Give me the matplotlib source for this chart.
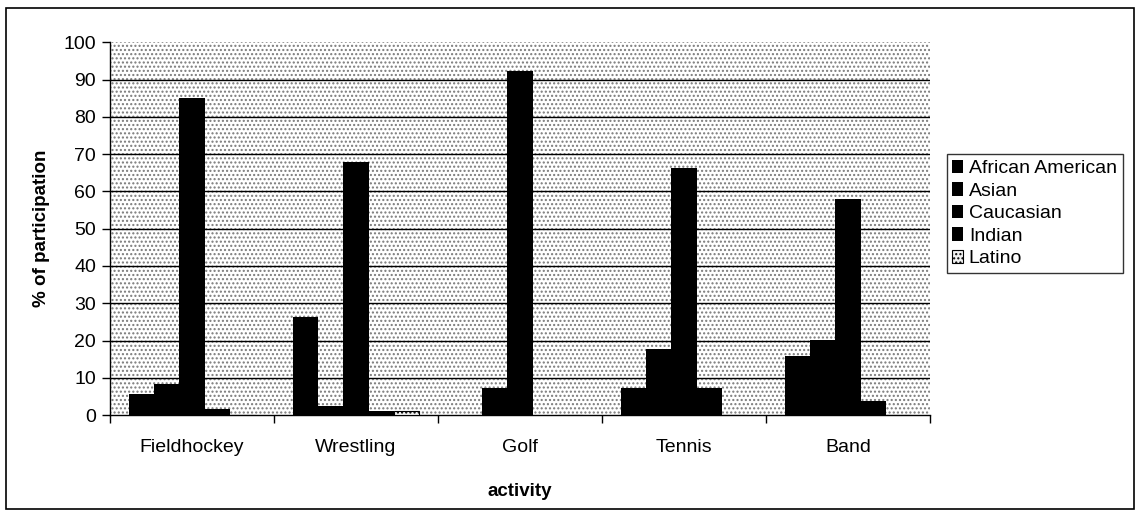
import numpy as np
import matplotlib.pyplot as plt
from matplotlib.patches import Rectangle

plt.rcParams['font.family'] = ['Liberation Sans', 'DejaVu Sans']
plt.rcParams['hatch.linewidth'] = 1.0

activities = ['Fieldhockey', 'Wrestling', 'Golf', 'Tennis', 'Band']
groups = ['African American', 'Asian', 'Caucasian', 'Indian', 'Latino']
african_american = [5.6, 26.3, 0.0, 7.2, 15.8]
asian = [8.3, 2.4, 7.3, 17.7, 20.1]
caucasian = [85.0, 68.0, 92.2, 66.2, 58.0]
indian = [1.6, 1.1, 0.0, 7.2, 3.7]
latino = [0.0, 1.0, 0.0, 0.0, 0.0]
series = [african_american, asian, caucasian, indian, latino]

fig = plt.figure(figsize=(11.39, 5.15), dpi=100)
ax = fig.add_axes([0.0966, 0.194, 0.72, 0.724])

# dotted plot area
ax.add_patch(Rectangle((0, 0), 1, 1, transform=ax.transAxes, facecolor='white',
                       hatch='....', edgecolor='#7a7a7a', lw=0, zorder=0))

x = np.arange(len(activities))
w = 1 / 6.5
for i, vals in enumerate(series):
    pos = x - 2 * w + i * w
    if groups[i] == 'Latino':
        ax.bar(pos, vals, w, color='#f2f2f2', edgecolor='black', lw=0.8,
               hatch='....', label=groups[i], zorder=3)
    else:
        ax.bar(pos, vals, w, color='black', edgecolor='black', lw=0,
               label=groups[i], zorder=3)

ax.set_xlim(-0.5, len(activities) - 0.5)
ax.set_ylim(0, 100)
ax.set_yticks(range(0, 101, 10))
for v in range(10, 100, 10):
    ax.axhline(v, color='black', lw=1.0, zorder=1)
ax.set_xticks(x)
ax.set_xticklabels(activities, fontsize=14)
ax.set_xticks(np.arange(-0.5, len(activities)), minor=True)
ax.tick_params(axis='x', which='major', length=0, pad=17)
ax.tick_params(axis='x', which='minor', length=6, width=1)
ax.tick_params(axis='y', labelsize=14, length=6, width=1, pad=4)
for s in ['top', 'right']:
    ax.spines[s].set_visible(False)
ax.spines['left'].set_linewidth(1)
ax.spines['bottom'].set_linewidth(1)

ax.set_xlabel('activity', fontsize=13.5, fontweight='bold', labelpad=20)
ax.set_ylabel('% of participation', fontsize=13.5, fontweight='bold', labelpad=10)

leg = fig.legend(loc='upper left', bbox_to_anchor=(0.831, 0.701), fontsize=14,
                 frameon=True, fancybox=False, edgecolor='black', handlelength=0.55,
                 handleheight=0.7, handletextpad=0.3, labelspacing=0.25,
                 borderpad=0.3, borderaxespad=0)
leg.get_frame().set_linewidth(1)

fig.patches.append(Rectangle((0.005, 0.012), 0.991, 0.973, transform=fig.transFigure,
                             fill=False, edgecolor='black', lw=1.2))

fig.savefig('out.png', dpi=100)
